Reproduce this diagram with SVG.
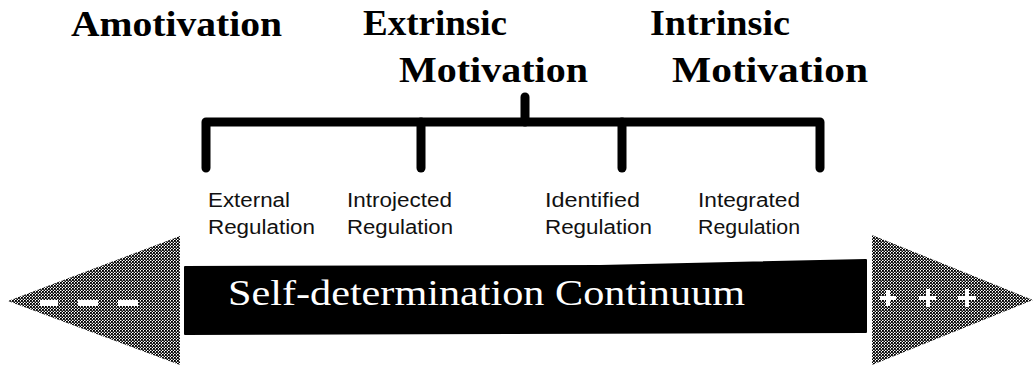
<svg xmlns="http://www.w3.org/2000/svg" width="1033" height="365" viewBox="0 0 1033 365">
<style>
.title{font-family:"Liberation Serif","Times New Roman",serif;font-weight:bold;font-size:35px;fill:#000}
.lab{font-family:"Liberation Sans",Arial,sans-serif;font-size:20px;fill:#111}
.band{font-family:"Liberation Serif","Times New Roman",serif;font-size:35px;fill:#fff}
.brk{fill:none;stroke:#000;stroke-width:9;stroke-linecap:round;stroke-linejoin:round}
.mark{fill:#fff}
</style>
<defs>
<pattern id="stip" width="3" height="3" patternUnits="userSpaceOnUse">
<rect width="3" height="3" fill="#fff"/>
<rect x="0" y="0" width="1.9" height="1.9" fill="#000"/>
<rect x="1.5" y="1.5" width="1.5" height="1.5" fill="#000"/>
</pattern>
</defs>
<rect width="1033" height="365" fill="#fff"/>

<g id="amotivation">
<text class="title" x="71" y="36" textLength="211" lengthAdjust="spacingAndGlyphs">Amotivation</text>
</g>
<g id="extrinsic">
<text class="title" x="363" y="35" textLength="144" lengthAdjust="spacingAndGlyphs">Extrinsic</text>
<text class="title" x="399" y="82" textLength="189" lengthAdjust="spacingAndGlyphs">Motivation</text>
</g>
<g id="intrinsic">
<text class="title" x="650" y="35" textLength="140" lengthAdjust="spacingAndGlyphs">Intrinsic</text>
<text class="title" x="672" y="82" textLength="196" lengthAdjust="spacingAndGlyphs">Motivation</text>
</g>

<g id="connectors">
<path class="brk" d="M206,168 V122 H820 V168"/>
<path class="brk" d="M525,97 V122"/>
<path class="brk" d="M421,122 V168"/>
<path class="brk" d="M622,122 V168"/>
</g>

<g id="external">
<text class="lab" x="208" y="207" textLength="82" lengthAdjust="spacingAndGlyphs">External</text>
<text class="lab" x="208" y="234" textLength="107" lengthAdjust="spacingAndGlyphs">Regulation</text>
</g>
<g id="introjected">
<text class="lab" x="347" y="207" textLength="105" lengthAdjust="spacingAndGlyphs">Introjected</text>
<text class="lab" x="347" y="234" textLength="106" lengthAdjust="spacingAndGlyphs">Regulation</text>
</g>
<g id="identified">
<text class="lab" x="545" y="207" textLength="95" lengthAdjust="spacingAndGlyphs">Identified</text>
<text class="lab" x="545" y="234" textLength="107" lengthAdjust="spacingAndGlyphs">Regulation</text>
</g>
<g id="integrated">
<text class="lab" x="698" y="207" textLength="102" lengthAdjust="spacingAndGlyphs">Integrated</text>
<text class="lab" x="698" y="234" textLength="102" lengthAdjust="spacingAndGlyphs">Regulation</text>
</g>

<g id="left-arrow">
<polygon points="8,301 180,236 180,365" fill="url(#stip)"/>
<rect class="mark" x="40" y="300" width="18" height="6"/>
<rect class="mark" x="78" y="300" width="20" height="6"/>
<rect class="mark" x="118" y="300" width="20" height="6"/>
</g>

<g id="continuum">
<polygon points="185,267 600,266 866,260 866,332 185,334" fill="#000" stroke="#000" stroke-width="2" stroke-linejoin="round"/>
<text class="band" x="228" y="305" textLength="517" lengthAdjust="spacingAndGlyphs">Self-determination Continuum</text>
</g>

<g id="right-arrow">
<polygon points="872,235 1033,300 872,365" fill="url(#stip)"/>
<path class="mark" d="M880,296 h16 v4 h-16 z M886,290 h4 v16 h-4 z"/>
<path class="mark" d="M919,296 h17 v4 h-17 z M926,289 h4 v18 h-4 z"/>
<path class="mark" d="M958,296 h18 v4 h-18 z M965,289 h4 v18 h-4 z"/>
</g>
</svg>
